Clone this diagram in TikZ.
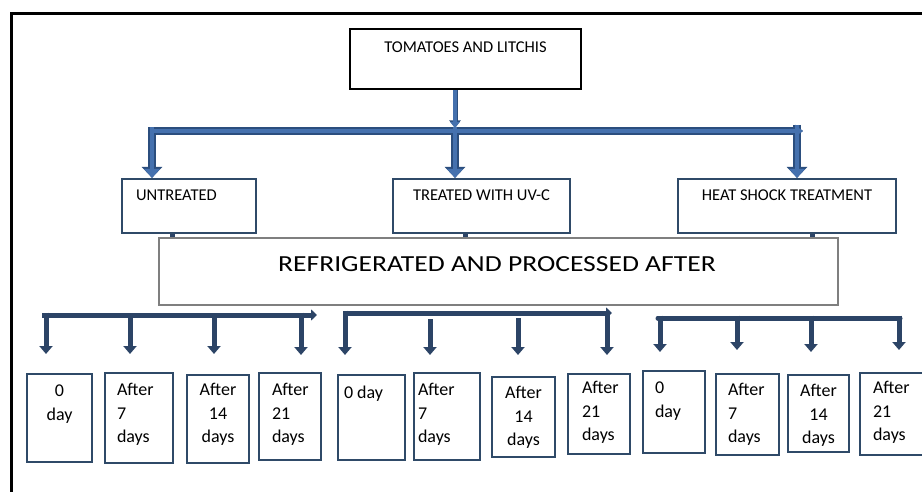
\documentclass[tikz,border=0pt]{standalone}
\usepackage{fontspec}
\setmainfont{Carlito}
\usetikzlibrary{arrows.meta,calc}
\definecolor{bfill}{HTML}{4571AE}
\definecolor{bedge}{HTML}{2B4E7E}
\definecolor{navy}{HTML}{2C4466}
\definecolor{slate}{HTML}{2F4A68}
\definecolor{refgray}{HTML}{7F7F7F}
\tikzset{
  frameline/.style={draw=black, line width=3pt},
  topbox/.style={draw=black, line width=2.6pt, inner sep=0pt},
  midbox/.style={draw=slate, line width=2.2pt, inner sep=0pt},
  daybox/.style={draw=slate, line width=2.4pt, inner sep=0pt},
  refbox/.style={draw=refgray, line width=1.2pt, fill=white, inner sep=0pt},
  midtxt/.style={font=\fontsize{16.5}{20}\selectfont, inner sep=0pt, text=black},
  bigtxt/.style={font=\fontsize{23}{28}\selectfont, inner sep=0pt, text=black},
  daytxt/.style={font=\fontsize{18}{23.5}\selectfont, inner sep=0pt, text=black},
  navyarrow/.style={draw=navy, line width=5pt, -{Triangle[width=13pt,length=8pt]}},
  navybar/.style={draw=navy, line width=5pt},
  stub/.style={draw=navy, line width=5pt},
}
% two-pass drawing of the outlined blue arrows
\newcommand\midnet[5]{%
  \draw[draw=#1, line width=#2, -{Triangle[width=#4,length=#5]}] (mL) -- (mE);
  \draw[draw=#1, line width=#2, -{Triangle[width=#3,length=#5+3pt]}] (mLt) -- (mLt |- unt.north);
  \draw[draw=#1, line width=#2, -{Triangle[width=#3,length=#5+3pt]}] (mCt) -- (mCt |- uv.north);
  \draw[draw=#1, line width=#2, -{Triangle[width=#3,length=#5+3pt]}] (mRt) -- (mRt |- heat.north);
}
\newcommand\daytext[4]{% name, anchor point, alignment (l/c), text
  \if#3l
    \node[daytxt, anchor=base west] (#1) at (#2) {\parbox[t]{60pt}{\raggedright #4}};
  \else
    \node[daytxt, anchor=base] (#1) at (#2) {\parbox[t]{60pt}{\centering #4}};
  \fi
}
\begin{document}
\begin{tikzpicture}[x=1pt,y=-1pt]
\useasboundingbox (0,0) rectangle (922,492);
\fill[white] (0,0) rectangle (922,492);

% outer frame (top and left edges)
\draw[frameline] (10,14) -- (922,14);
\draw[frameline] (11,12.5) -- (11,492);

% top box
\node[topbox, minimum width=231pt, minimum height=60pt] (top) at (465.5,59) {};
\node[midtxt, anchor=base] (toptxt) at ($(top.north)+(0,25)$) {TOMATOES AND LITCHIS};

% middle row boxes
\node[midbox, minimum width=134pt, minimum height=54pt] (unt) at (189,206) {};
\node[midbox, minimum width=177pt, minimum height=54pt] (uv) at (481.5,206) {};
\node[midbox, minimum width=218pt, minimum height=54pt] (heat) at (787,206) {};
\node[midtxt, anchor=base west] (unttxt) at ($(unt.north west)+(15,23)$) {UNTREATED};
\node[midtxt, anchor=base] (uvtxt) at ($(uv.north)+(0,23)$) {TREATED WITH UV-C};
\node[midtxt, anchor=base] (heattxt) at ($(heat.north)+(0,23)$) {HEAT SHOCK TREATMENT};

% blue connectors
\coordinate (mL) at (152,131);
\coordinate (mE) at (803,131);
\coordinate (mLt) at (152,127.5);
\coordinate (mCt) at (455,127.5);
\coordinate (mRt) at (797,125);
\coordinate (tA) at (455,128);
\draw[draw=bfill, line width=3.5pt, -{Triangle[width=9pt,length=6pt]},
      preaction={draw=bedge, line width=5pt, -{Triangle[width=11pt,length=7.5pt]}}]
      (top.south -| tA) -- (tA);
\midnet{bedge}{7.5pt}{20pt}{12pt}{8pt}
\midnet{bfill}{4.5pt}{15.5pt}{8pt}{6pt}

% stubs below the middle boxes
\coordinate (s1) at (172,238);
\coordinate (s2) at (465,238);
\coordinate (s3) at (812,238);
\draw[stub] (unt.south -| s1) -- (s1);
\draw[stub] (uv.south -| s2) -- (s2);
\draw[stub] (heat.south -| s3) -- (s3);

% refrigerated box
\node[refbox, minimum width=679pt, minimum height=67pt] (ref) at (498.5,271.5) {};
\node[bigtxt, anchor=base] (reftxt) at ($(ref.north)+(-1.5,34)$) {\scalebox{1.2}[1]{REFRIGERATED AND PROCESSED AFTER}};

% bottom boxes
\node[daybox, minimum width=65pt, minimum height=88pt] (b1) at (59.5,418) {};
\node[daybox, minimum width=68pt, minimum height=90pt] (b2) at (139,418) {};
\node[daybox, minimum width=62pt, minimum height=88pt] (b3) at (218,419) {};
\node[daybox, minimum width=62pt, minimum height=87pt] (b4) at (290,416.5) {};
\node[daybox, minimum width=67pt, minimum height=85pt] (b5) at (371.5,417.5) {};
\node[daybox, minimum width=66pt, minimum height=87pt] (b6) at (447,416.5) {};
\node[daybox, minimum width=63pt, minimum height=80pt] (b7) at (523.5,417) {};
\node[daybox, minimum width=62pt, minimum height=80pt] (b8) at (599,414) {};
\node[daybox, minimum width=62pt, minimum height=82pt] (b9) at (674,412) {};
\node[daybox, minimum width=63pt, minimum height=81pt] (b10) at (747.5,414.5) {};
\node[daybox, minimum width=61pt, minimum height=77pt] (b11) at (818.5,413.5) {};
\node[daybox, minimum width=66pt, minimum height=82pt] (b12) at (893,414) {};

\daytext{t1}{$(b1.north)+(0,24)$}{c}{0\\day}
\daytext{t2}{$(b2.north west)+(13,24)$}{l}{After\\7\\days}
\daytext{t3}{$(b3.north)+(0,22)$}{c}{After\\14\\days}
\daytext{t4}{$(b4.north west)+(14,24)$}{l}{After\\21\\days}
\daytext{t5}{$(b5.north west)+(7,25)$}{l}{0 day}
\daytext{t6}{$(b6.north west)+(5,24)$}{l}{After\\7\\days}
\daytext{t7}{$(b7.north)+(0,23)$}{c}{After\\14\\days}
\daytext{t8}{$(b8.north west)+(15,21)$}{l}{After\\21\\days}
\daytext{t9}{$(b9.north west)+(13,24)$}{l}{0\\day}
\daytext{t10}{$(b10.north west)+(13,23)$}{l}{After\\7\\days}
\daytext{t11}{$(b11.north)+(0,23)$}{c}{After\\14\\days}
\daytext{t12}{$(b12.north west)+(14,22)$}{l}{After\\21\\days}

% bottom connector group 1
\coordinate (g1L) at (42,315);
\coordinate (g1R) at (317,315);
\draw[navybar, -{Triangle[width=11pt,length=6pt]}] (g1L) -- (g1R);
\coordinate (a1) at (46,312.5);   \coordinate (e1) at (46,354);
\coordinate (a2) at (130,318);    \coordinate (e2) at (130,354);
\coordinate (a3) at (214,318);    \coordinate (e3) at (214,354);
\coordinate (a4) at (301,312.5);  \coordinate (e4) at (301,355);
\draw[navyarrow] (a1) -- (e1);
\draw[navyarrow] (a2) -- (e2);
\draw[navyarrow] (a3) -- (e3);
\draw[navyarrow] (a4) -- (e4);

% bottom connector group 2
\coordinate (g2L) at (343,313);
\coordinate (g2R) at (612,313);
\draw[navybar, -{Triangle[width=11pt,length=6pt]}] (g2L) -- (g2R);
\coordinate (a5) at (345,310.5);  \coordinate (e5) at (345,355);
\coordinate (a6) at (430,319);    \coordinate (e6) at (430,355);
\coordinate (a7) at (518,318);    \coordinate (e7) at (518,355);
\coordinate (a8) at (607,310.5);  \coordinate (e8) at (607,355);
\draw[navyarrow] (a5) -- (e5);
\draw[navyarrow] (a6) -- (e6);
\draw[navyarrow] (a7) -- (e7);
\draw[navyarrow] (a8) -- (e8);

% bottom connector group 3
\coordinate (g3L) at (658,318);
\coordinate (g3R) at (900,318);
\draw[navybar, line cap=round] (g3L) -- (g3R);
\coordinate (a9) at (660,315.5);  \coordinate (e9) at (660,352);
\coordinate (a10) at (737,315.5); \coordinate (e10) at (737,350);
\coordinate (a11) at (811,315.5); \coordinate (e11) at (811,352);
\coordinate (a12) at (899,315.5); \coordinate (e12) at (899,350);
\draw[navyarrow] (a9) -- (e9);
\draw[navyarrow] (a10) -- (e10);
\draw[navyarrow] (a11) -- (e11);
\draw[navyarrow] (a12) -- (e12);
\end{tikzpicture}
\end{document}
